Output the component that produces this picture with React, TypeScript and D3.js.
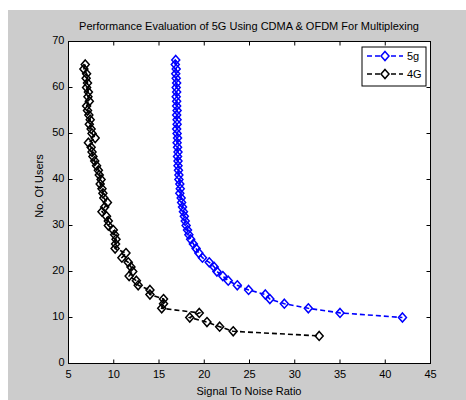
import React from "react";
import * as d3 from "d3";

// users (y) and signal-to-noise ratio (x) for each series
const users5g = [66, 65, 64, 63, 62, 61, 60, 59, 58, 57, 56, 55, 54, 53, 52, 51, 50, 49, 48, 47, 46, 45, 44, 43, 42, 41, 40, 39, 38, 37, 36, 35, 34, 33, 32, 31, 30, 29, 28, 27, 26, 25, 24, 23, 22, 21, 20, 19, 18, 17, 16, 15, 14, 13, 12, 11, 10];
const snr5g = [16.85, 16.8, 16.9, 16.85, 16.9, 16.95, 16.9, 16.95, 16.9, 16.95, 16.95, 17.0, 16.95, 17.0, 17.0, 16.95, 17.0, 17.05, 17.0, 17.05, 17.1, 17.05, 17.1, 17.1, 17.15, 17.2, 17.2, 17.3, 17.35, 17.3, 17.45, 17.5, 17.6, 17.7, 17.8, 17.9, 18.0, 18.15, 18.3, 18.5, 18.8, 19.1, 19.4, 19.8, 20.55, 21.1, 21.4, 22.05, 22.65, 23.65, 24.9, 26.75, 27.25, 28.85, 31.5, 35.0, 41.9];

const users4g = [65, 64, 63, 62, 61, 60, 59, 58, 57, 56, 55, 54, 53, 52, 51, 50, 49, 48, 47, 46, 45, 44, 43, 42, 41, 40, 39, 38, 37, 36, 35, 34, 33, 32, 31, 30, 29, 28, 27, 26, 25, 24, 23, 22, 21, 20, 19, 18, 17, 16, 15, 14, 13, 12, 11, 10, 9, 8, 7, 6];
const snr4g = [6.85, 6.7, 7.0, 6.95, 7.1, 7.0, 7.2, 7.15, 7.3, 7.0, 7.1, 7.25, 7.4, 7.3, 7.5, 7.6, 7.95, 7.2, 7.5, 7.6, 7.7, 7.9, 8.1, 8.3, 8.4, 8.6, 8.5, 8.7, 8.8, 8.9, 9.3, 9.0, 8.7, 9.2, 9.4, 9.4, 9.95, 10.1, 10.25, 10.2, 10.15, 11.35, 10.9, 11.6, 11.9, 12.1, 11.7, 12.5, 12.7, 14.0, 14.0, 15.5, 15.5, 15.3, 19.45, 18.4, 20.3, 21.7, 23.2, 32.7];

const xTicks = [5, 10, 15, 20, 25, 30, 35, 40, 45];
const yTicks = [0, 10, 20, 30, 40, 50, 60, 70];

const series = [
  { name: "5g", color: "#0000ff", x: snr5g, y: users5g },
  { name: "4G", color: "#000000", x: snr4g, y: users4g },
];

const W = 466;
const H = 400;
const plot = { left: 68.5, right: 430.5, top: 41.5, bottom: 363.5 };
const font = "Arial, 'Liberation Sans', sans-serif";

function diamond(cx, cy) {
  const a = 4, b = 4.5;
  return `M${cx},${cy - b}L${cx + a},${cy}L${cx},${cy + b}L${cx - a},${cy}Z`;
}

export default function App() {
  const x = d3.scaleLinear().domain([5, 45]).range([plot.left, plot.right]);
  const y = d3.scaleLinear().domain([0, 70]).range([plot.bottom, plot.top]);
  const line = d3
    .line<[number, number]>()
    .x((d) => x(d[0]))
    .y((d) => y(d[1]));

  const tick = 4;

  return (
    <svg
      width={W}
      height={H}
      style={{ position: "absolute", left: 0, top: 0, fontFamily: font }}
    >
      <rect x={0} y={0} width={W} height={H} fill="#ffffff" />
      <rect x={8} y={10} width={W - 8} height={H - 10} fill="#cccccc" />
      <rect
        x={plot.left}
        y={plot.top}
        width={plot.right - plot.left}
        height={plot.bottom - plot.top}
        fill="#ffffff"
      />

      <g clipPath="url(#clip)">
        {series.map((s) => {
          const pts: [number, number][] = s.x.map((v, i) => [v, s.y[i]]);
          return (
            <g key={s.name}>
              <path
                d={line(pts) || ""}
                fill="none"
                stroke={s.color}
                strokeWidth={1.6}
                strokeDasharray="5,3"
              />
              {pts.map((p, i) => (
                <path
                  key={i}
                  d={diamond(x(p[0]), y(p[1]))}
                  fill="none"
                  stroke={s.color}
                  strokeWidth={1.5}
                />
              ))}
            </g>
          );
        })}
      </g>

      {/* box and ticks */}
      <rect
        x={plot.left}
        y={plot.top}
        width={plot.right - plot.left}
        height={plot.bottom - plot.top}
        fill="none"
        stroke="#000"
        strokeWidth={1}
      />
      {xTicks.map((t) => (
        <g key={"x" + t}>
          <line x1={x(t)} x2={x(t)} y1={plot.bottom} y2={plot.bottom - tick} stroke="#000" />
          <line x1={x(t)} x2={x(t)} y1={plot.top} y2={plot.top + tick} stroke="#000" />
          <text x={x(t)} y={378} fontSize={11} textAnchor="middle" fill="#000">
            {t}
          </text>
        </g>
      ))}
      {yTicks.map((t) => (
        <g key={"y" + t}>
          <line x1={plot.left} x2={plot.left + tick} y1={y(t)} y2={y(t)} stroke="#000" />
          <line x1={plot.right} x2={plot.right - tick} y1={y(t)} y2={y(t)} stroke="#000" />
          <text x={plot.left - 4} y={y(t) + 2} fontSize={11} textAnchor="end" fill="#000">
            {t}
          </text>
        </g>
      ))}

      <text x={249} y={30} fontSize={11} textAnchor="middle" fill="#000">
        Performance Evaluation of 5G Using CDMA &amp; OFDM For Multiplexing
      </text>
      <text x={249} y={395} fontSize={11} textAnchor="middle" fill="#000">
        Signal To Noise Ratio
      </text>
      <text
        transform={`translate(43,186) rotate(-90)`}
        fontSize={11}
        textAnchor="middle"
        fill="#000"
      >
        No. Of Users
      </text>

      {/* legend */}
      <rect x={362} y={47} width={64} height={39} fill="#ffffff" stroke="#000" strokeWidth={1} />
      {series.map((s, i) => {
        const ly = 56 + i * 18;
        return (
          <g key={"leg" + s.name}>
            <line x1={367} x2={403} y1={ly} y2={ly} stroke={s.color} strokeWidth={1.6} strokeDasharray="5,3" />
            <path d={diamond(385, ly)} fill="#ffffff" stroke={s.color} strokeWidth={1.5} />
            <text x={407} y={ly + 4} fontSize={11} fill="#000">
              {s.name}
            </text>
          </g>
        );
      })}
      <defs>
        <clipPath id="clip">
          <rect x={plot.left} y={plot.top} width={plot.right - plot.left} height={plot.bottom - plot.top} />
        </clipPath>
      </defs>
    </svg>
  );
}
